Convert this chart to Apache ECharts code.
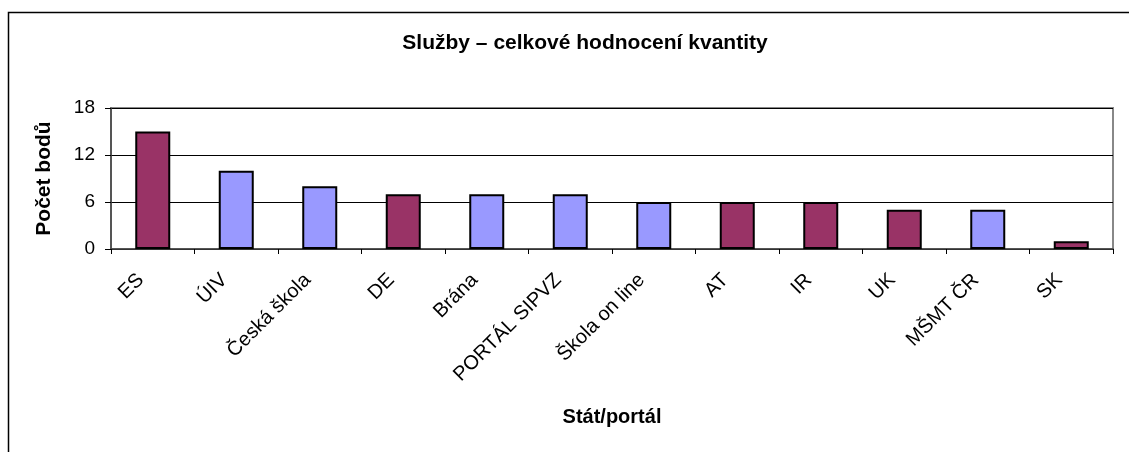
<!DOCTYPE html>
<html>
 <head>
  <title>Služby – celkové hodnocení kvantity</title>
  <script src="https://cdn.jsdelivr.net/npm/echarts@6/dist/echarts.min.js"></script>
  <style>
    html, body, #container {
    width: 100%;
    height: 100%;
    margin: 0;
    padding: 0;
    background: #fff;
    }
  </style>
 </head>
  <body>
    <div id="container"></div>
    <script>
// data
var kategorie = ['ES', 'ÚIV', 'Česká škola', 'DE', 'Brána', 'PORTÁL SIPVZ', 'Škola on line', 'AT', 'IR', 'UK', 'MŠMT ČR', 'SK'];
var body = [15, 10, 8, 7, 7, 7, 6, 6, 6, 5, 5, 1];
// stát = foreign country, portál = czech portal
var druh = ['stát', 'portál', 'portál', 'stát', 'portál', 'portál', 'portál', 'stát', 'stát', 'stát', 'portál', 'stát'];
var yTicks = [0, 6, 12, 18];

var barvy = { 'stát': '#993366', 'portál': '#9999FF' };
var font = 'Arial, "Liberation Sans", sans-serif';

var chartDom = document.getElementById('container');
var myChart = echarts.init(chartDom);

var option = {
  animation: false,
  backgroundColor: '#fff',
  title: {
    text: 'Služby – celkové hodnocení kvantity',
    left: 580,
    top: 28,
    textAlign: 'center',
    textStyle: { fontFamily: font, fontSize: 21, fontWeight: 'bold', color: '#000' }
  },
  graphic: [{
    type: 'rect',
    shape: { x: 8.5, y: 12.5, width: 1300, height: 600 },
    style: { fill: 'none', stroke: '#000', lineWidth: 1.5 },
    silent: true
  }],
  grid: {
    left: 111, right: 16, top: 108, bottom: 203,
    show: true, borderColor: '#888', borderWidth: 2, backgroundColor: 'transparent'
  },
  xAxis: {
    type: 'category',
    data: kategorie,
    name: 'Stát/portál',
    nameLocation: 'middle',
    nameGap: 158,
    nameTextStyle: { fontFamily: font, fontSize: 20, fontWeight: 'bold', color: '#000' },
    axisLine: { lineStyle: { color: '#444', width: 1.5 } },
    axisTick: { show: true, length: 5, lineStyle: { color: '#000' } },
    axisLabel: {
      interval: 0,
      rotate: 45,
      margin: 16,
      padding: [0, 17, 0, 0],
      fontFamily: font,
      fontSize: 20,
      color: '#000'
    }
  },
  yAxis: {
    type: 'value',
    min: yTicks[0],
    max: yTicks[yTicks.length - 1],
    interval: yTicks[1] - yTicks[0],
    name: 'Počet bodů',
    nameLocation: 'middle',
    nameGap: 56,
    nameTextStyle: { fontFamily: font, fontSize: 21, fontWeight: 'bold', color: '#000' },
    axisLine: { show: true, lineStyle: { color: '#444', width: 1.5 } },
    axisTick: { show: true, length: 6, lineStyle: { color: '#000' } },
    axisLabel: { margin: 16, fontFamily: font, fontSize: 19, color: '#000' },
    splitLine: { show: true, lineStyle: { color: '#000', width: 1 } }
  },
  series: [
    {
      type: 'bar',
      barWidth: 35,
      data: body.map(function (v, i) {
        return {
          value: v,
          itemStyle: { color: barvy[druh[i]], borderColor: '#000', borderWidth: 2 }
        };
      })
    }
  ]
};

option && myChart.setOption(option);
    </script>
  </body>
</html>
